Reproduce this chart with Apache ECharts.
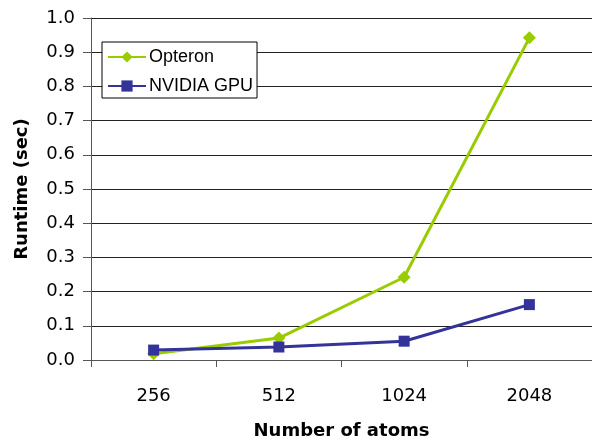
<!DOCTYPE html>
<html><head><meta charset="utf-8">
<script src="https://cdn.jsdelivr.net/npm/echarts@6/dist/echarts.min.js"></script>
<style>html,body{margin:0;padding:0;background:#fff}#c{width:592px;height:445px}</style>
</head><body><div id="c"></div>
<script>
const categories = ['256', '512', '1024', '2048'];
const opteron = [0.018, 0.064, 0.242, 0.942];
const gpu = [0.029, 0.038, 0.055, 0.162];
const yTicks = [0, 0.1, 0.2, 0.3, 0.4, 0.5, 0.6, 0.7, 0.8, 0.9, 1.0];

const chart = echarts.init(document.getElementById('c'));
const font = 'DejaVu Sans, sans-serif';
chart.setOption({
  animation: false,
  backgroundColor: '#fff',
  grid: { left: 91, right: -1, top: 18, bottom: 81, containLabel: false },
  legend: {
    orient: 'vertical', left: 102, top: 42,
    backgroundColor: '#fff', borderColor: '#000', borderWidth: 1,
    padding: [6, 4, 3, 5], itemWidth: 38, itemHeight: 14, itemGap: 11,
    textStyle: { fontFamily: 'Liberation Sans, Arial, sans-serif', fontSize: 18, color: '#000', lineHeight: 18, padding: [0, 0, 0, -2] },
    data: ['Opteron', 'NVIDIA GPU']
  },
  xAxis: {
    type: 'category', data: categories, boundaryGap: true,
    name: 'Number of atoms', nameLocation: 'middle', nameGap: 62,
    nameTextStyle: { fontFamily: font, fontSize: 18, fontWeight: 'bold', color: '#000' },
    axisLine: { lineStyle: { color: '#555', width: 1 } },
    axisTick: { show: true, length: 7, lineStyle: { color: '#555' } },
    axisLabel: { fontFamily: font, fontSize: 18, color: '#000', margin: 27 }
  },
  yAxis: {
    type: 'value', min: 0, max: 1.0, interval: 0.1,
    name: 'Runtime (sec)', nameLocation: 'middle', nameGap: 60, nameRotate: 90,
    nameTextStyle: { fontFamily: font, fontSize: 18, fontWeight: 'bold', color: '#000' },
    axisLine: { show: true, lineStyle: { color: '#555', width: 1 } },
    axisTick: { show: true, length: 8, inside: false, lineStyle: { color: '#555' } },
    axisLabel: { fontFamily: font, fontSize: 18, color: '#000', margin: 16,
      formatter: v => { const t = yTicks.find(x => Math.abs(x - v) < 1e-9); return (t !== undefined ? t : v).toFixed(1); } },
    splitLine: { show: true, lineStyle: { color: '#222', width: 1 } }
  },
  series: [
    { name: 'Opteron', type: 'line', data: opteron, symbol: 'diamond', symbolSize: 13,
      lineStyle: { color: '#99CC00', width: 3 }, itemStyle: { color: '#99CC00' }, z: 2 },
    { name: 'NVIDIA GPU', type: 'line', data: gpu, symbol: 'rect', symbolSize: 11,
      lineStyle: { color: '#333399', width: 3 }, itemStyle: { color: '#333399' }, z: 3 }
  ]
});
</script></body></html>
